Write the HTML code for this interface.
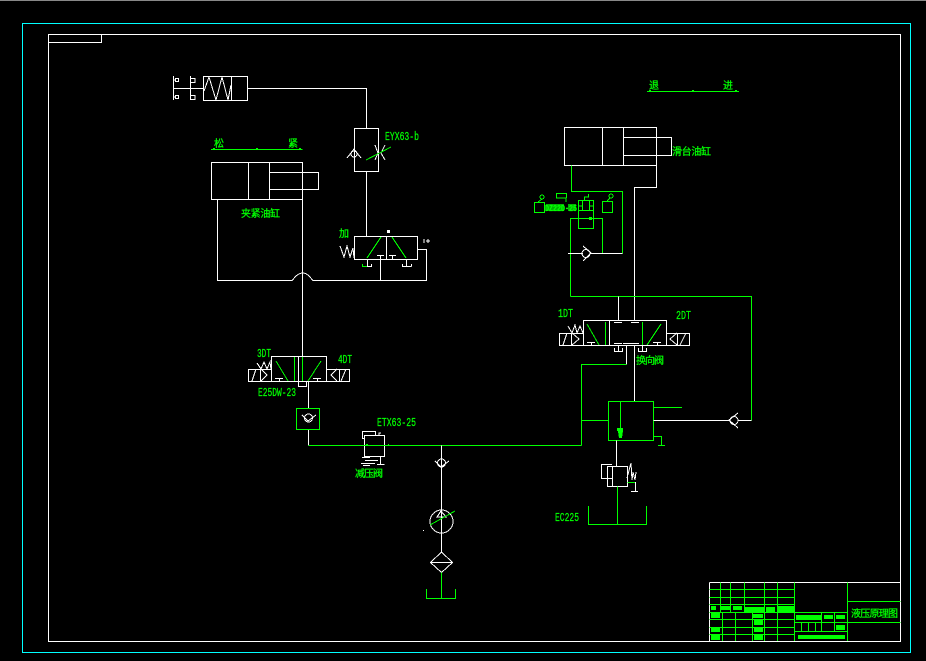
<!DOCTYPE html>
<html>
<head>
<meta charset="utf-8">
<style>
html,body{margin:0;padding:0;background:#000;width:926px;height:661px;overflow:hidden}
svg{display:block;position:absolute;left:0;top:0}
.w{fill:none;stroke:#fff;stroke-width:1}
.g{fill:none;stroke:#0f0;stroke-width:1}
.f{fill:#0f0;stroke:none}
text{fill:#0f0;stroke:#0f0;stroke-width:.25;font-family:"Liberation Mono","Noto Sans CJK SC",monospace;font-size:11.500px}
.c{font-family:"Liberation Sans","Noto Sans CJK SC",sans-serif;font-size:10px}
</style>
</head>
<body>
<svg width="926" height="661" viewBox="0 0 926 661" shape-rendering="crispEdges">
<rect x="0" y="0" width="926" height="1" fill="#888"/>
<rect x="22.500" y="23.500" width="888" height="629" fill="none" stroke="#0ff"/>
<rect x="48.500" y="34.500" width="852" height="607" class="w"/>
<path class="w" d="M48.500 42.500H101.500V34.500"/>

<!-- top pneumatic valve -->
<rect x="203.500" y="76.500" width="44" height="24" class="w"/>
<path class="w" d="M231.500 76.500V100.500M173.500 76V100M190.500 76V100M173 88.500H203.500M247.500 88.500H366.500V128M366.500 171V236"/>
<path class="w" d="M204 91L209 77L216 100L222 77L228 100L231 85"/>
<path class="w" d="M174 80H175M174 97H175"/>
<rect x="175.500" y="78.500" width="3" height="3" class="w"/>
<rect x="175.500" y="95.500" width="3" height="3" class="w"/>
<path class="w" d="M191 78.500H195V82.500H191M191 95.500H195V99.500H191"/>
<rect x="354.500" y="128.500" width="24" height="43" class="w"/>
<path class="w" d="M347 158L354 149L361 158"/>
<circle cx="354" cy="154" r="3" class="w"/>
<path class="w" d="M375 145L378 153L375 160M385 145L381 153L385 160"/>
<path class="g" d="M366 160L391 147"/>
<text x="385" y="140" textLength="34" lengthAdjust="spacingAndGlyphs">EYX63-b</text>

<!-- left cylinder -->
<path class="g" d="M211 149.500H302.500"/>
<path class="f" d="M213 148h2v1h-2zM256 148h2v1h-2zM299 148h2v1h-2z"/>
<text class="c" x="214" y="147">松</text>
<text class="c" x="288" y="147">紧</text>
<rect x="211.500" y="162.500" width="91" height="37" class="w"/>
<path class="w" d="M248.500 162.500V199.500M269.500 162.500V199.500"/>
<rect x="269.500" y="172.500" width="49" height="17" class="w"/>
<path class="w" d="M217.500 199.500V280.500H292L296 276Q303 270 309 276L313 280.500H426.500V249.500H417.500M380.500 280.500V255M302.500 199.500V356"/>
<text class="c" x="241" y="217" textLength="39">夹紧油缸</text>

<!-- center valve -->
<rect x="354.500" y="236.500" width="63" height="23" class="w"/>
<path class="w" d="M386.500 236.500V259.500M377 255.500H384M389 255.500H396M392.500 255.500V259.500"/>
<path class="g" d="M367 258L381 237M392 237L406 258"/>
<path class="w" d="M367.500 259V266.500H371.500V264M406.500 259V266.500M402 266.500H411.500M402.500 264V266.500M411.500 264V266.500"/>
<path class="g" d="M362.500 264V266.500H367"/>
<path class="w" d="M340 246L344 257L347 246L350 257L353 248L354 258"/>
<rect x="387" y="230" width="3" height="3" fill="#fff"/>
<path class="w" d="M424 239V243M426 241H430M428 239V243"/>
<text class="c" x="339" y="237">加</text>

<!-- right cylinder -->
<path class="g" d="M647 91.500H739"/>
<path class="f" d="M649 90h2v1h-2zM692 90h2v1h-2zM735 90h2v1h-2z"/>
<text class="c" x="649" y="89">退</text>
<text class="c" x="723" y="89">进</text>
<rect x="564.500" y="127.500" width="92" height="38" class="w"/>
<path class="w" d="M602.500 127.500V165.500M623.500 127.500V165.500"/>
<rect x="623.500" y="137.500" width="48" height="18" class="w"/>
<text class="c" x="672" y="155" textLength="39">滑台油缸</text>
<path class="w" d="M656.500 165.500V187.500H634.500V320.500"/>
<path class="g" d="M571.500 165.500V191.500H622.500V253.500"/>
<path class="g" d="M570.500 296.500V218.500H602.500V253.500"/>
<path class="g" d="M570.500 296.500H751.500V420.500"/>
<path class="w" d="M568 253.500H583M591 253.500H622.500M618.500 296.500V320.500"/>
<circle cx="586" cy="253.500" r="4" class="w"/>
<path class="w" d="M583 246L591 253L583 261"/>

<!-- green cluster -->
<rect x="534.500" y="202.500" width="10" height="10" class="g"/>
<path class="g" d="M538 202L542 199"/>
<circle cx="542" cy="197" r="2" class="g"/>
<path class="g" d="M566 202V198H556.500V193.500H566.500V198"/>
<rect x="578.500" y="200.500" width="15" height="28" class="g"/>
<rect x="582.500" y="200.500" width="7" height="10" class="g"/>
<path class="g" d="M578.500 210.500H593.500M578.500 206H582.500M589.500 206H593.500M584.500 200V197H588.500V194"/>
<rect x="602.500" y="201.500" width="10" height="11" class="g"/>
<path class="g" d="M607 201L610 198"/>
<circle cx="611" cy="196" r="2" class="g"/>
<rect x="589" y="217" width="3" height="3" class="f"/>
<rect x="546" y="204" width="18" height="7" class="f" opacity=".7"/>
<rect x="568" y="204" width="8" height="7" class="f" opacity=".7"/>
<text x="545" y="211" textLength="32" lengthAdjust="spacingAndGlyphs" style="font-weight:bold;font-size:9px">DZ22D-25</text>

<!-- 1DT valve -->
<rect x="583.500" y="320.500" width="83" height="25" class="w"/>
<path class="w" d="M609.500 320.500V345.500"/>
<path class="g" d="M605.500 322V345M642.500 322V345M587 324L599 345M661 324L647 345"/>
<rect x="559.500" y="333.500" width="24" height="12" class="w"/>
<rect x="666.500" y="333.500" width="23" height="12" class="w"/>
<path class="w" d="M571.500 333.500V345.500M677.500 333.500V345.500M563 345L567 333M572 333L579 339L572 345M677 333L670 339L677 345M680 345L686 333"/>
<path class="w" d="M568 326L572 333L575 325L577 333L580 326L583 333"/>
<path class="w" d="M587 342.500H595M591.500 342.500V345M653 342.500H661M657.500 342.500V345M614 322.500H622M631 322.500H639M614 343.500H622M623 343.500H639"/>
<path class="w" d="M618.500 345V351.500M614.500 348V351.500H622.500V348M642.500 345V351.500M638.500 348V351.500H646.500V348"/>
<path class="w" d="M626.500 345.500V364.500M634.500 345.500V401.500"/>
<path class="g" d="M626.500 364.500H581.500V445.500M581.500 420.500H608.500"/>
<text x="558" y="317" textLength="15" lengthAdjust="spacingAndGlyphs">1DT</text>
<text x="676" y="319" textLength="15" lengthAdjust="spacingAndGlyphs">2DT</text>
<text class="c" x="636" y="364" textLength="28">换向阀</text>

<!-- main block -->
<rect x="608.500" y="401.500" width="45" height="39" class="g"/>
<path class="g" d="M620.500 401.500V438M653.500 407.500H682M653.500 436.500H661.500V445"/>
<path class="g" d="M658 445.500H665"/>
<path class="f" d="M617 428H623V431L622 438H619L618 431H617Z"/>
<path class="w" d="M653.500 420.500H729M738 420.500H751.500"/>
<circle cx="734" cy="420.500" r="4" class="w"/>
<path class="w" d="M738 413L729 420L738 428"/>

<!-- lower right relief -->
<rect x="607.500" y="466.500" width="20" height="20" class="w"/>
<path class="w" d="M612.500 466.500V486.500M616.500 440.500V466.500M612 478.500H601.500V464.500H612"/>
<path class="w" d="M627 478L631 463L632 480L633 472L635 480L636 472"/>
<path class="g" d="M627.500 482.500H635M617.500 486.500V524.500"/>
<path class="w" d="M635.500 482V491.500M631 491.500H638"/>
<path class="g" d="M588.500 506V524.500H646.500V506"/>
<text x="555" y="521" textLength="24" lengthAdjust="spacingAndGlyphs">EC225</text>

<!-- 3DT valve -->
<rect x="271.500" y="356.500" width="55" height="25" class="w"/>
<rect x="248.500" y="369.500" width="23" height="12" class="w"/>
<rect x="326.500" y="369.500" width="23" height="12" class="w"/>
<path class="w" d="M260.500 369.500V381.500M339.500 369.500V381.500M298.500 356.500V381.500"/>
<path class="g" d="M294.500 357V381M302.500 357V381M276 361L288 381M321 361L308 381"/>
<path class="w" d="M252 381L256 369M261 369L267 375L261 381M337 369L331 375L337 381M341 381L346 369"/>
<path class="w" d="M257 363L261 369L264 362L267 369L270 362L271 369"/>
<path class="w" d="M275 378.500H283M279.500 378.500V381M313 378.500H321M317.500 378.500V381M298.500 381V386.500H306.500V381M308.500 381.500V408.500M308.500 429V445.500"/>
<text x="257" y="357" textLength="14" lengthAdjust="spacingAndGlyphs">3DT</text>
<text x="338" y="363" textLength="14" lengthAdjust="spacingAndGlyphs">4DT</text>
<text x="258" y="396" textLength="38" lengthAdjust="spacingAndGlyphs">E25DW-23</text>

<!-- check in green square -->
<rect x="296.500" y="408.500" width="23" height="21" class="g"/>
<circle cx="308.500" cy="418" r="4" class="w"/>
<path class="w" d="M302 415L308 421L316 415"/>

<!-- reducing valve -->
<rect x="364.500" y="435.500" width="20" height="21" class="w"/>
<path class="w" d="M365 438.500H362.500V431.500H375.500V435M379 435V433H381M380.500 456V464.500M377 464.500H384.500"/>
<path class="w" d="M362 457.500H370M365 460.500H378M361 463.500H375M363 465.500H370"/>
<path class="g" d="M308.500 445.500H581.500"/>
<path class="f" d="M366 444h2v1h-2zM388 444h1v1h-1z"/>
<text x="377" y="426" textLength="39" lengthAdjust="spacingAndGlyphs">ETX63-25</text>
<text class="c" x="355" y="477" textLength="28">减压阀</text>

<!-- pump column -->
<path class="w" d="M441.500 445.500V552"/>
<circle cx="441.500" cy="463" r="4" class="w"/>
<path class="w" d="M435 461L441 467L449 461"/>
<circle cx="441.500" cy="521.500" r="11.500" class="w"/>
<path class="w" d="M441 511L437 517H446Z"/>
<path class="g" d="M430 525L455 511"/>
<path class="w" d="M441.500 552L452.500 562.500L441.500 572.500L430.500 562.500ZM430.500 562.500H452.500"/>
<path class="g" d="M441.500 572.500V598.500M426.500 589V598.500H455.500V589"/>
<rect x="423" y="530" width="1" height="1" fill="#fff"/>

<!-- title block -->
<path class="w" d="M709.500 582.500H900.500M709.500 582.500V641.500"/>
<path class="g" d="M709.500 589.500H794.500M709.500 597.500H794.500M709.500 604.500H794.500M709.500 612.500H847.500M709.500 619.500H794.500M709.500 627.500H794.500M709.500 634.500H794.500"/>
<path class="g" d="M720.500 582.500V612M730.500 582.500V612M744.500 582.500V612M764.500 582.500V641M777.500 582.500V641M794.500 582.500V641M722.500 612V641M735.500 612V641M752.500 612V641M847.500 582.500V641"/>
<path class="g" d="M847.500 601.500H900.500M794.500 622.500H900.500M794.500 631.500H847.500M821.500 612.500V631.500M834.500 612.500V631.500M801.500 622.500V631.500M808.500 622.500V631.500M815.500 622.500V631.500"/>
<path class="f" d="M711 606h5v4h-5zM721 606h9v4h-9zM733 606h9v4h-9zM744 607h20v5h-20zM766 607h9v5h-9zM778 606h16v6h-16zM711 613h9v5h-9zM753 614h10v4h-10zM754 619h9v6h-9zM754 628h9v4h-9zM754 635h9v5h-9zM711 628h9v4h-9zM711 635h9v5h-9zM796 615h26v5h-26zM824 615h9v4h-9zM836 615h9v4h-9zM836 625h9v5h-9zM798 635h47v4h-47z"/>
<text class="c" x="851" y="617" textLength="47">液压原理图</text>
</svg>
</body>
</html>
